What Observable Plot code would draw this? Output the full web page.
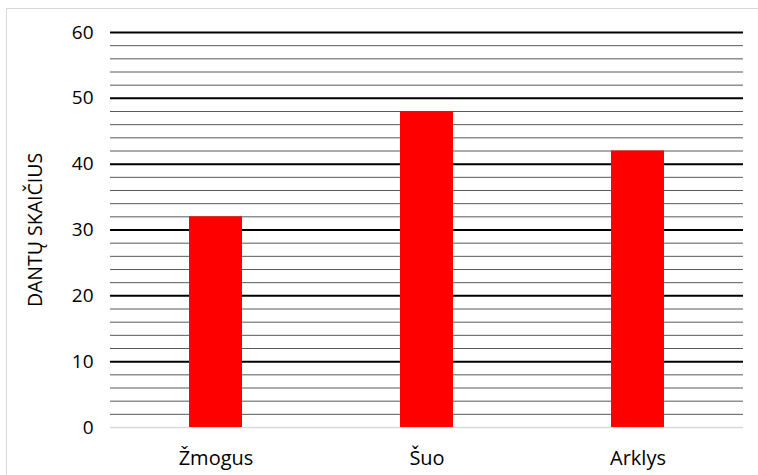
<!DOCTYPE html>
<html>
<head>
<meta charset="utf-8">
<script src="https://cdn.jsdelivr.net/npm/d3@7"></script>
<script src="https://cdn.jsdelivr.net/npm/@observablehq/plot@0.6"></script>
<style>
  html, body { margin: 0; padding: 0; background: #fff; }
  #wrap { position: relative; width: 758px; height: 475px; overflow: hidden; }
  #frame { position: absolute; left: 6px; top: 8px; width: 800px; height: 500px;
           border-left: 1.5px solid #d9d9d9; border-top: 1.5px solid #d9d9d9; pointer-events: none; }
  #chart { position: absolute; left: 0; top: 0; }
</style>
</head>
<body>
<div id="wrap"><div id="chart"></div><div id="frame"></div></div>
<script>
const categories = ["Žmogus", "Šuo", "Arklys"];
const values = [32, 48, 42];
const majorTicks = [0, 10, 20, 30, 40, 50, 60];
const minorTicks = [2, 4, 6, 8, 12, 14, 16, 18, 22, 24, 26, 28, 32, 34, 36, 38, 42, 44, 46, 48, 52, 54, 56, 58];
const yLabel = "DANTŲ SKAIČIUS";

const data = categories.map((c, i) => ({ category: c, value: values[i] }));

const chart = Plot.plot({
  width: 758,
  height: 475,
  marginLeft: 110,
  marginRight: 15,
  marginTop: 32,
  marginBottom: 48,
  style: { fontFamily: "Open Sans", background: "transparent", color: "#000" },
  x: { domain: categories, paddingInner: 0.75, paddingOuter: 0.375 },
  y: { domain: [0, 60] },
  marks: [
    Plot.ruleY(minorTicks, { stroke: "#595959", strokeWidth: 1 }),
    Plot.ruleY(majorTicks.filter(d => d > 0), { stroke: "#000", strokeWidth: 2 }),
    Plot.ruleY([0], { stroke: "#d9d9d9", strokeWidth: 1.5 }),
    Plot.barY(data, { x: "category", y: "value", fill: "#ff0000" }),
    Plot.axisY({
      ticks: majorTicks, tickSize: 0, tickPadding: 17, fontSize: 19,
      label: yLabel, labelAnchor: "center", labelArrow: "none", labelOffset: 82
    }),
    Plot.axisX({ tickSize: 0, tickPadding: 23, fontSize: 20, label: null })
  ]
});
chart.querySelectorAll("text").forEach(t => {
  t.setAttribute("fill", "#000");
  if (t.textContent.trim() === yLabel) t.setAttribute("font-size", "19.5px");
});
document.getElementById("chart").appendChild(chart);
</script>
</body>
</html>
